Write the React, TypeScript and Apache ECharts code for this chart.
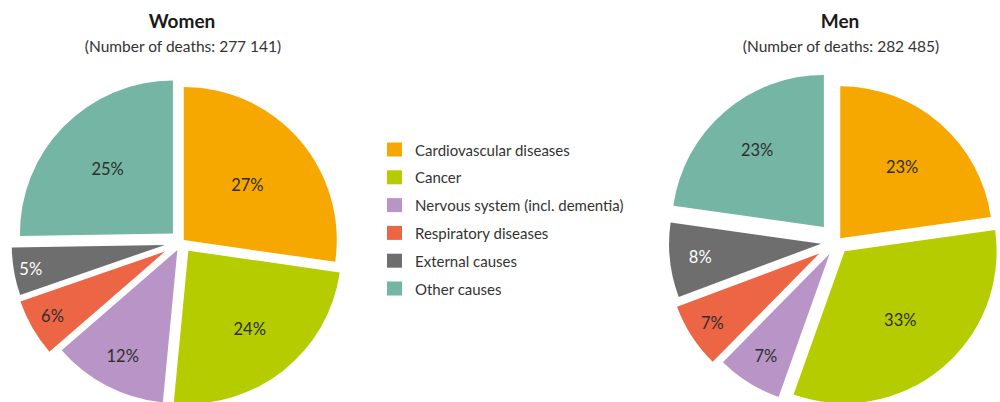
import React, { useEffect, useRef } from "react";
import * as echarts from "echarts";

const CATEGORIES = [
  "Cardiovascular diseases",
  "Cancer",
  "Nervous system (incl. dementia)",
  "Respiratory diseases",
  "External causes",
  "Other causes",
];
const WOMEN = [27, 24, 12, 6, 5, 25];
const MEN = [23, 33, 7, 7, 8, 23];
const COLORS = ["#F7A800", "#B5CC00", "#B994C6", "#EC6545", "#6E6E6E", "#75B5A3"];
const LABEL_COLORS = ["#2e2e2e", "#2e2e2e", "#2e2e2e", "#2e2e2e", "#ffffff", "#2e2e2e"];
const TITLES = ["Women", "Men"];
const SUBTITLES = ["(Number of deaths: 277 141)", "(Number of deaths: 282 485)"];

const FONT = "Lato, sans-serif";

const PIES = [
  {
    values: WOMEN,
    center: [181.5, 242],
    radius: 153,
    offsets: [3, 11, 9, 19, 17, 12],
    labelDist: [0.53, 0.63, 0.76, 0.83, 0.87, 0.58],
    titleX: 182,
  },
  {
    values: MEN,
    center: [837, 242],
    radius: 152,
    offsets: [5, 12, 14, 21, 16, 20],
    labelDist: [0.6, 0.56, 0.77, 0.82, 0.78, 0.65],
    titleX: 840,
  },
];

const TRANSPARENT = "rgba(0,0,0,0)";

function buildSeries() {
  const series: any[] = [];
  PIES.forEach((pie) => {
    const total = pie.values.reduce((a, b) => a + b, 0);
    let cum = 0;
    const centers = pie.values.map((v, i) => {
      const mid = ((cum + v / 2) / total) * Math.PI * 2;
      cum += v;
      const d = pie.offsets[i];
      return [pie.center[0] + d * Math.sin(mid), pie.center[1] - d * Math.cos(mid)];
    });
    // slices
    pie.values.forEach((_, i) => {
      series.push({
        type: "pie",
        silent: true,
        startAngle: 90,
        clockwise: true,
        radius: [0, pie.radius],
        center: centers[i],
        label: { show: false },
        labelLine: { show: false },
        emphasis: { disabled: true },
        itemStyle: { borderWidth: 0 },
        data: pie.values.map((v, j) => ({
          value: v,
          name: CATEGORIES[j],
          itemStyle: { color: j === i ? COLORS[j] : TRANSPARENT, borderWidth: 0 },
        })),
      });
    });
    // labels
    pie.values.forEach((_, i) => {
      series.push({
        type: "pie",
        silent: true,
        startAngle: 90,
        clockwise: true,
        radius: [0, 2 * pie.labelDist[i] * pie.radius],
        center: centers[i],
        labelLine: { show: false },
        emphasis: { disabled: true },
        itemStyle: { color: TRANSPARENT, borderWidth: 0 },
        label: { show: false },
        data: pie.values.map((v, j) => ({
          value: v,
          name: CATEGORIES[j],
          itemStyle: { color: TRANSPARENT, borderWidth: 0 },
          label:
            j === i
              ? {
                  show: true,
                  position: "inside",
                  formatter: `${v}%`,
                  color: LABEL_COLORS[j],
                  fontSize: 16.5,
                  fontFamily: FONT,
                }
              : { show: false },
        })),
      });
    });
  });
  return series;
}

export default function App() {
  const ref = useRef<HTMLDivElement>(null);
  useEffect(() => {
    if (!ref.current) return;
    const chart = echarts.init(ref.current, undefined, { renderer: "svg" });
    const graphics: any[] = [];
    PIES.forEach((pie, k) => {
      graphics.push({
        type: "text",
        x: pie.titleX,
        y: 20,
        style: {
          text: TITLES[k],
          fontSize: 19,
          fontWeight: "bold",
          fontFamily: FONT,
          fill: "#1a1a1a",
          textAlign: "center",
          textVerticalAlign: "middle",
        },
      });
      graphics.push({
        type: "text",
        x: pie.titleX + 1,
        y: 46,
        style: {
          text: SUBTITLES[k],
          fontSize: 15.5,
          fontFamily: FONT,
          fill: "#333333",
          textAlign: "center",
          textVerticalAlign: "middle",
        },
      });
    });
    chart.setOption({
      animation: false,
      backgroundColor: "#ffffff",
      legend: {
        orient: "vertical",
        left: 387,
        top: 142,
        padding: 0,
        itemWidth: 15,
        itemHeight: 14,
        itemGap: 12.8,
        icon: "rect",
        selectedMode: false,
        textStyle: {
          fontSize: 15,
          lineHeight: 14,
          color: "#333333",
          fontFamily: FONT,
          padding: [0, 0, 0, 8],
        },
        data: CATEGORIES.map((n, i) => ({ name: n, itemStyle: { color: COLORS[i] } })),
      },
      graphic: graphics,
      series: buildSeries(),
    });
    return () => chart.dispose();
  }, []);
  return (
    <div
      ref={ref}
      style={{ position: "fixed", left: 0, top: 0, width: 1000, height: 402 }}
    />
  );
}
